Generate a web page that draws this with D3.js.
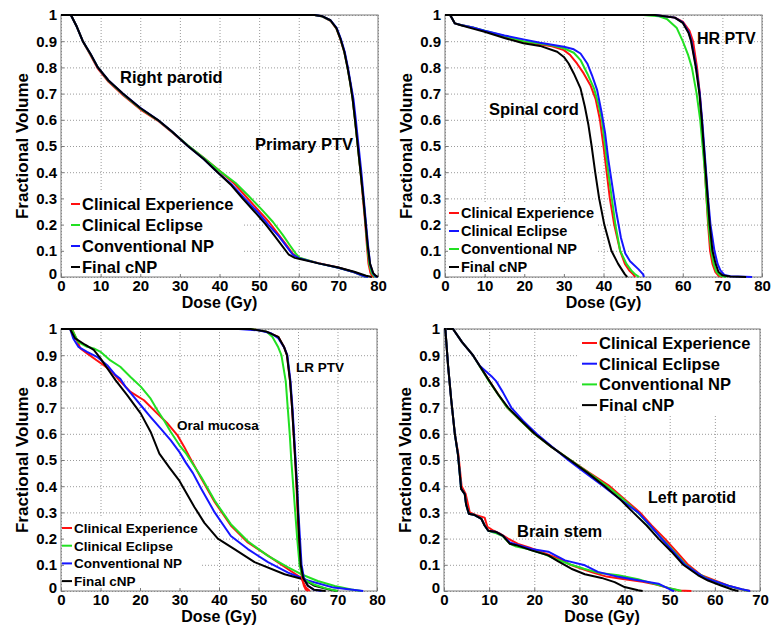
<!DOCTYPE html>
<html>
<head>
<meta charset="utf-8">
<script src="https://cdn.jsdelivr.net/npm/d3@7"></script>
<style>
  body { margin: 0; background: #fff; }
  svg { display: block; }
  text { font-family: "Liberation Sans", Arial, sans-serif; font-weight: bold; fill: #000; }
</style>
</head>
<body>
<svg id="fig" width="773" height="635"></svg>
<script>
// ---- data (dose in Gy, fractional volume) ----
var seriesNames = ["Clinical Experience", "Clinical Eclipse", "Conventional NP", "Final cNP"];
var yTicks = [0, 0.1, 0.2, 0.3, 0.4, 0.5, 0.6, 0.7, 0.8, 0.9, 1];
var xTicks80 = [0, 10, 20, 30, 40, 50, 60, 70, 80];
var xTicks70 = [0, 10, 20, 30, 40, 50, 60, 70];

// top-left: right parotid
var parA_exp = [[0,1],[2.5,1],[4,0.955],[5.5,0.9],[7.5,0.845],[9.3,0.795],[12,0.745],[15.6,0.695],[20,0.64],[24.4,0.597],[28,0.553],[32,0.502],[36,0.455],[40,0.405],[43.5,0.36],[46.5,0.31],[49.5,0.26],[52.5,0.21],[55,0.16],[57,0.12],[58.5,0.088],[60,0.073],[65,0.053],[70,0.036],[74,0.018],[76.5,0.004],[77.5,0]];
var parA_ecl = [[0,1],[2.5,1],[4,0.955],[5.5,0.9],[7.5,0.848],[9.3,0.8],[12,0.748],[15.6,0.698],[20,0.643],[24.4,0.599],[28,0.554],[32,0.503],[36,0.455],[40,0.405],[44,0.36],[47.3,0.31],[50.5,0.26],[53.5,0.21],[56,0.16],[57.8,0.12],[59.2,0.09],[60.2,0.074],[65,0.052],[70,0.035],[74,0.018],[76.5,0.003],[77.5,0]];
var parA_np  = [[0,1],[2.5,1],[4,0.955],[5.5,0.9],[7.5,0.85],[9.3,0.8],[12,0.75],[15.6,0.7],[20,0.646],[24.4,0.6],[28,0.555],[32,0.5],[36,0.45],[39.5,0.4],[43.3,0.35],[46.3,0.3],[49.5,0.25],[52.3,0.2],[55,0.155],[57,0.115],[58.5,0.085],[60,0.072],[65,0.052],[70,0.035],[74,0.018],[76.5,0.003],[77.5,0]];
var parA_cnp = [[0,1],[2.5,1],[4,0.955],[5.5,0.9],[7.5,0.85],[9.3,0.8],[12,0.75],[15.6,0.7],[20,0.645],[24.4,0.6],[28,0.555],[32,0.5],[36,0.45],[39.5,0.4],[43,0.35],[45.8,0.3],[48.8,0.25],[51.7,0.2],[54,0.155],[56,0.115],[57.5,0.085],[59,0.073],[60,0.07],[65,0.052],[70,0.036],[74,0.02],[77,0.005],[78.5,0]];
// top-left: primary PTV
var ptvA_exp = [[0,1],[64,1],[66,0.994],[68,0.978],[69.5,0.948],[70.5,0.908],[71.5,0.858],[72.3,0.8],[73,0.74],[73.6,0.68],[74.2,0.6],[74.9,0.5],[75.6,0.4],[76.2,0.3],[76.8,0.2],[77.2,0.12],[77.6,0.05],[78.1,0.015],[78.6,0.003],[79,0]];
var ptvA_ecl = [[0,1],[64,1],[66,0.994],[68,0.979],[69.5,0.95],[70.5,0.91],[71.5,0.86],[72.3,0.8],[73,0.74],[73.6,0.68],[74.2,0.6],[74.9,0.5],[75.6,0.4],[76.3,0.3],[76.9,0.2],[77.3,0.12],[77.8,0.05],[78.4,0.015],[79,0.003],[79.5,0]];
var ptvA_np  = [[0,1],[64,1],[66,0.995],[68,0.98],[69.6,0.95],[70.6,0.91],[71.6,0.86],[72.4,0.8],[73.1,0.74],[73.8,0.68],[74.4,0.6],[75.1,0.5],[75.8,0.4],[76.4,0.3],[77,0.2],[77.5,0.12],[78,0.05],[78.7,0.015],[79.3,0.003],[79.8,0]];
var ptvA_cnp = [[0,1],[64,1],[66,0.995],[68,0.98],[69.5,0.95],[70.5,0.91],[71.5,0.86],[72.3,0.8],[73,0.74],[73.6,0.68],[74.2,0.6],[74.9,0.5],[75.6,0.4],[76.3,0.3],[76.9,0.2],[77.4,0.12],[78,0.05],[78.8,0.015],[79.5,0.004],[80,0]];

// top-right: spinal cord
var cordB_exp = [[0,1],[1.3,1],[2.5,0.968],[4,0.962],[7,0.952],[10,0.938],[15,0.918],[19.8,0.898],[26.6,0.882],[30,0.866],[31.6,0.847],[33.3,0.815],[35,0.777],[36.7,0.732],[38,0.68],[39.1,0.6],[40,0.5],[40.8,0.4],[41.6,0.3],[42.7,0.2],[44.2,0.1],[45.4,0.05],[46.5,0.025],[47.5,0.01],[48,0]];
var cordB_ecl = [[0,1],[1.3,1],[2.5,0.968],[4,0.962],[7,0.952],[10,0.94],[15,0.922],[19.8,0.907],[24,0.894],[30,0.879],[32.5,0.869],[34.2,0.853],[35.9,0.815],[37.1,0.77],[38.4,0.713],[39.5,0.63],[40.4,0.55],[41.2,0.45],[42.2,0.35],[43.2,0.25],[44.4,0.15],[45.5,0.09],[46.7,0.06],[48.8,0.03],[50,0.01],[50.2,0]];
var cordB_np  = [[0,1],[1.3,1],[2.5,0.968],[4,0.962],[7,0.952],[10,0.94],[15,0.92],[19.8,0.9],[26.6,0.885],[30,0.873],[32.5,0.856],[34.2,0.828],[35.9,0.777],[37.6,0.72],[38.7,0.66],[39.6,0.6],[40.4,0.5],[41.2,0.4],[42.1,0.3],[43,0.2],[44.2,0.1],[45.8,0.05],[47,0.025],[48,0.01],[49,0]];
var cordB_cnp = [[0,1],[1.3,1],[2.5,0.968],[3.8,0.962],[7,0.948],[10,0.936],[15,0.912],[19.8,0.892],[24,0.882],[28.3,0.86],[30,0.84],[31.2,0.815],[32.5,0.777],[34.2,0.72],[35.3,0.65],[36.2,0.58],[37,0.5],[37.9,0.4],[38.9,0.3],[40.2,0.2],[42,0.1],[43.7,0.05],[45.4,0.01],[46,0]];
// top-right: HR PTV
var ptvB_exp = [[0,1],[53,1],[58,0.99],[60,0.975],[61.7,0.94],[62.6,0.9],[63.6,0.8],[64.3,0.7],[64.8,0.6],[65.2,0.5],[65.6,0.4],[66,0.3],[66.4,0.2],[66.9,0.1],[67.5,0.05],[68.2,0.02],[69,0.005],[70,0]];
var ptvB_ecl = [[0,1],[53,1],[58,0.99],[60,0.972],[61.5,0.935],[62.2,0.9],[63.4,0.8],[64.3,0.7],[64.9,0.6],[65.4,0.5],[65.9,0.4],[66.4,0.3],[67,0.2],[68,0.1],[68.8,0.05],[69.5,0.025],[70.5,0.008],[72,0.003],[77.5,0]];
var ptvB_np  = [[0,1],[50,1],[54,0.995],[56,0.985],[58.5,0.95],[60,0.9],[61.3,0.85],[62.3,0.8],[63.5,0.7],[64.4,0.6],[65,0.5],[65.6,0.4],[66,0.3],[66.5,0.2],[67.2,0.1],[67.8,0.05],[68.5,0.02],[69.5,0.005],[71,0]];
var ptvB_cnp = [[0,1],[53,1],[58,0.99],[60,0.97],[61.5,0.93],[62.1,0.9],[63.3,0.8],[64.2,0.7],[64.8,0.6],[65.3,0.5],[65.8,0.4],[66.3,0.3],[66.8,0.2],[67.5,0.1],[68.3,0.05],[69,0.02],[70,0.007],[72,0.002],[76,0]];

// bottom-left: oral mucosa
var oralC_exp = [[0,1],[2.8,1],[4.9,0.926],[6.6,0.907],[9.1,0.88],[10.8,0.862],[12.5,0.843],[15,0.8],[17.6,0.76],[21,0.728],[24.4,0.677],[27,0.639],[29.5,0.594],[31.2,0.55],[32.6,0.51],[35.5,0.43],[38.9,0.34],[43,0.25],[47.3,0.185],[52.4,0.135],[57.5,0.083],[60.8,0.05],[62,0.013],[63,0]];
var oralC_ecl = [[0,1],[2.7,1],[4.4,0.95],[6.6,0.932],[8.3,0.926],[10,0.913],[12.5,0.88],[15,0.856],[17.6,0.817],[20.2,0.78],[22.7,0.734],[24.4,0.69],[26.1,0.651],[27.8,0.607],[30,0.556],[31.7,0.524],[35.5,0.435],[38.9,0.345],[43,0.255],[47.3,0.19],[52.4,0.134],[57.5,0.09],[60.8,0.064],[65,0.038],[69.3,0.019],[73.5,0.006],[76,0]];
var oralC_np  = [[0,1],[2.3,1],[3.1,0.964],[4.4,0.932],[6.6,0.913],[9.1,0.894],[11.7,0.862],[13.8,0.824],[15,0.81],[16.3,0.78],[18.5,0.74],[20.2,0.709],[22.7,0.664],[25.3,0.619],[27.8,0.575],[30,0.53],[31.6,0.49],[33.4,0.45],[35.5,0.39],[38.9,0.3],[43,0.21],[47.3,0.16],[52.4,0.11],[57.5,0.07],[62.5,0.04],[69,0.013],[76.5,0]];
var oralC_cnp = [[0,1],[2.3,1],[3.6,0.964],[6.1,0.94],[8.3,0.92],[10,0.888],[11.7,0.85],[13.8,0.805],[16.8,0.747],[20.2,0.677],[22.7,0.607],[24.9,0.524],[27.5,0.47],[30,0.42],[33.8,0.32],[36.3,0.26],[39.7,0.2],[43.9,0.16],[49,0.11],[56.6,0.064],[61.3,0.045],[64.2,0.02],[68.4,0.004],[70,0]];
// bottom-left: LR PTV
var ptvC_exp = [[0,1],[48,1],[52,0.99],[55,0.97],[56.5,0.93],[57.2,0.9],[58,0.8],[58.5,0.7],[58.9,0.6],[59.3,0.5],[59.6,0.4],[59.9,0.3],[60.2,0.2],[60.6,0.1],[61,0.05],[61.5,0.02],[62,0.005],[62.5,0]];
var ptvC_ecl = [[0,1],[48,1],[52,0.99],[53.5,0.97],[55,0.93],[55.8,0.9],[56.9,0.8],[57.4,0.7],[57.9,0.6],[58.3,0.5],[58.8,0.4],[59.3,0.3],[59.8,0.2],[60.4,0.1],[61,0.06],[62,0.04],[64,0.025],[67,0.01],[70,0]];
var ptvC_np  = [[0,1],[45,1],[50,0.995],[53,0.985],[55,0.965],[56.5,0.93],[57.3,0.9],[58.1,0.8],[58.6,0.7],[59,0.6],[59.4,0.5],[59.8,0.4],[60.1,0.3],[60.5,0.2],[60.9,0.1],[61.5,0.05],[62.5,0.02],[64,0.005],[66,0]];
var ptvC_cnp = [[0,1],[48,1],[52,0.99],[55,0.97],[56.5,0.93],[57.2,0.9],[58,0.8],[58.5,0.7],[58.9,0.6],[59.3,0.5],[59.7,0.4],[60,0.3],[60.3,0.2],[60.7,0.1],[61.3,0.05],[62.5,0.02],[64,0.005],[67,0]];

// bottom-right: left parotid
var parD_exp = [[0,1],[2,1],[4,0.95],[6.4,0.9],[10.1,0.8],[14,0.7],[17,0.65],[20,0.6],[23.8,0.55],[28,0.5],[32.3,0.45],[36.7,0.4],[40,0.35],[43.4,0.3],[46,0.25],[48.9,0.2],[51.5,0.15],[54.1,0.1],[57,0.06],[60,0.04],[63,0.02],[66,0.006],[67.8,0]];
var parD_ecl = [[0,1],[2,1],[4,0.95],[6.4,0.9],[7.9,0.86],[10.5,0.82],[11.6,0.8],[13,0.76],[14.9,0.7],[17.5,0.65],[20.5,0.6],[24,0.55],[27.5,0.5],[31.4,0.45],[35.3,0.4],[39,0.35],[43,0.3],[45.7,0.25],[48.2,0.2],[50.8,0.15],[53.4,0.1],[57.8,0.05],[63,0.02],[66,0.007],[67.8,0]];
var parD_np  = [[0,1],[2,1],[4,0.95],[6.4,0.9],[10,0.8],[14,0.7],[17,0.65],[20,0.6],[23.8,0.55],[28,0.5],[32.1,0.45],[36.2,0.4],[39.7,0.35],[42.9,0.3],[45.6,0.25],[48.3,0.2],[51,0.15],[53.6,0.1],[56,0.07],[58,0.05],[62,0.025],[65,0.01],[67.5,0]];
var parD_cnp = [[0,1],[2,1],[4,0.95],[6.4,0.9],[10.1,0.8],[12,0.75],[14.2,0.7],[17.1,0.65],[20.1,0.6],[23.8,0.55],[27.9,0.5],[31.9,0.45],[35.6,0.4],[39,0.35],[41.9,0.3],[44.9,0.25],[47.5,0.2],[50.4,0.15],[53,0.1],[56.3,0.06],[58.5,0.04],[61.5,0.02],[64,0.005],[65.2,0]];
// bottom-right: brain stem
var stemD_exp = [[0,1],[0.3,1],[0.9,0.86],[1.6,0.73],[2.4,0.6],[3.2,0.52],[3.9,0.4],[4.8,0.37],[5.2,0.34],[5.7,0.3],[7,0.29],[9,0.28],[9.6,0.245],[11,0.23],[12.3,0.22],[14.2,0.2],[16.4,0.18],[19,0.165],[23,0.14],[26,0.12],[28,0.1],[30.5,0.085],[33,0.07],[36,0.055],[40,0.045],[44,0.035],[47,0.025],[50,0.01],[52,0.002],[54.8,0]];
var stemD_ecl = [[0,1],[0.3,1],[0.9,0.86],[1.6,0.73],[2.4,0.6],[3.1,0.52],[3.8,0.39],[4.6,0.37],[4.9,0.33],[5.5,0.295],[6.8,0.29],[8.3,0.275],[9,0.25],[9.8,0.23],[11.6,0.225],[13.1,0.21],[14.6,0.185],[16,0.178],[19.4,0.16],[23.1,0.15],[26.8,0.117],[31.2,0.098],[34.1,0.073],[38.6,0.054],[43,0.041],[47.5,0.028],[50.4,0.003],[51,0]];
var stemD_np  = [[0,1],[0.3,1],[0.9,0.86],[1.6,0.73],[2.4,0.6],[3.1,0.52],[3.8,0.39],[4.6,0.37],[4.9,0.33],[5.5,0.295],[6.8,0.29],[8.3,0.275],[9,0.25],[9.8,0.23],[11.6,0.22],[13,0.21],[14.6,0.18],[16,0.17],[18.6,0.16],[22.3,0.14],[25,0.12],[28.2,0.1],[31,0.085],[34.1,0.07],[38.6,0.06],[43,0.045],[46,0.03],[49.7,0.012],[52,0.003],[52.6,0]];
var stemD_cnp = [[0,1],[0.3,1],[0.9,0.86],[1.6,0.73],[2.4,0.6],[3.1,0.52],[3.8,0.39],[4.6,0.37],[4.9,0.33],[5.5,0.295],[6.8,0.29],[8.3,0.275],[9,0.25],[9.8,0.23],[11.6,0.225],[13.1,0.21],[14.6,0.18],[16,0.175],[19.4,0.155],[23.1,0.136],[25.3,0.113],[28.2,0.085],[31.2,0.064],[34.9,0.05],[37.8,0.034],[40,0.015],[43,0.003],[44,0]];

// ---- styling ----
var RED = "#ff1010", GREEN = "#22e022", BLUE = "#1515ff", BLACK = "#000000";

var panels = [
  {
    left: 61, top: 15, width: 317, height: 262, xMax: 80, xTicks: xTicks80,
    curves: [[parA_exp, RED], [parA_ecl, GREEN], [parA_np, BLUE], [parA_cnp, BLACK],
             [ptvA_exp, RED], [ptvA_ecl, GREEN], [ptvA_np, BLUE], [ptvA_cnp, BLACK]],
    legend: { x: 71, y: 204, step: 21, len: 9, gap: 2, size: 16.5, colors: [RED, GREEN, BLUE, BLACK], box: [62, 192, 180, 84] },
    labels: [["Right parotid", 120, 83, 16.5], ["Primary PTV", 255, 150, 16.5]]
  },
  {
    left: 445, top: 15, width: 317, height: 262, xMax: 80, xTicks: xTicks80,
    curves: [[cordB_exp, RED], [cordB_np, GREEN], [cordB_ecl, BLUE], [cordB_cnp, BLACK],
             [ptvB_exp, RED], [ptvB_np, GREEN], [ptvB_ecl, BLUE], [ptvB_cnp, BLACK]],
    legend: { x: 449, y: 213, step: 18, len: 10, gap: 2, size: 14.5, colors: [RED, BLUE, GREEN, BLACK], box: [446, 203, 152, 73] },
    labels: [["Spinal cord", 489, 115, 16.5], ["HR PTV", 697, 44, 16]]
  },
  {
    left: 61, top: 329, width: 316, height: 262, xMax: 80, xTicks: xTicks80,
    curves: [[oralC_exp, RED], [oralC_ecl, GREEN], [oralC_np, BLUE], [oralC_cnp, BLACK],
             [ptvC_exp, RED], [ptvC_ecl, GREEN], [ptvC_np, BLUE], [ptvC_cnp, BLACK]],
    legend: { x: 62, y: 528, step: 17.7, len: 10, gap: 2, size: 13.5, colors: [RED, GREEN, BLUE, BLACK], box: [62, 518, 138, 72] },
    labels: [["Oral mucosa", 177, 430, 13.5], ["LR PTV", 296, 372, 13.5]]
  },
  {
    left: 444, top: 329, width: 316, height: 262, xMax: 70, xTicks: xTicks70,
    curves: [[parD_exp, RED], [parD_np, GREEN], [parD_ecl, BLUE], [parD_cnp, BLACK],
             [stemD_exp, RED], [stemD_np, GREEN], [stemD_ecl, BLUE], [stemD_cnp, BLACK]],
    legend: { x: 582, y: 343, step: 20.7, len: 15, gap: 2, size: 16.5, colors: [RED, BLUE, GREEN, BLACK], box: [579, 330, 180, 85] },
    labels: [["Left parotid", 648, 503, 16], ["Brain stem", 517, 537, 16.5]]
  }
];

var svg = d3.select("#fig");
var fmt = function (d) { return String(+d.toFixed(1)); };

panels.forEach(function (p) {
  var x = d3.scaleLinear().domain([0, p.xMax]).range([p.left, p.left + p.width]);
  var y = d3.scaleLinear().domain([0, 1]).range([p.top + p.height, p.top]);
  var g = svg.append("g");

  // dotted grid
  g.append("g")
    .attr("transform", "translate(0," + (p.top + p.height) + ")")
    .call(d3.axisBottom(x).tickValues(p.xTicks).tickSize(-p.height).tickFormat(""))
    .call(function (s) {
      s.select(".domain").remove();
      s.selectAll("line").attr("stroke", "#9a9a9a").attr("stroke-dasharray", "1,2");
    });
  g.append("g")
    .attr("transform", "translate(" + p.left + ",0)")
    .call(d3.axisLeft(y).tickValues(yTicks).tickSize(-p.width).tickFormat(""))
    .call(function (s) {
      s.select(".domain").remove();
      s.selectAll("line").attr("stroke", "#9a9a9a").attr("stroke-dasharray", "1,2");
    });

  // legend background hides the grid, like the original
  g.append("rect")
    .attr("x", p.legend.box[0]).attr("y", p.legend.box[1])
    .attr("width", p.legend.box[2]).attr("height", p.legend.box[3])
    .attr("fill", "#fff");

  // frame
  g.append("rect")
    .attr("x", p.left).attr("y", p.top)
    .attr("width", p.width).attr("height", p.height)
    .attr("fill", "none").attr("stroke", "#7a7a7a").attr("stroke-width", 1);

  // tick labels with short inward ticks
  var xa = g.append("g")
    .attr("transform", "translate(0," + (p.top + p.height) + ")")
    .call(d3.axisBottom(x).tickValues(p.xTicks).tickSize(-3).tickPadding(3).tickFormat(d3.format("d")));
  var ya = g.append("g")
    .attr("transform", "translate(" + p.left + ",0)")
    .call(d3.axisLeft(y).tickValues(yTicks).tickSize(-3).tickPadding(4).tickFormat(fmt));
  [xa, ya].forEach(function (a) {
    a.select(".domain").remove();
    a.selectAll("line").attr("stroke", "#7a7a7a");
    a.selectAll("text").attr("font-size", 15).attr("font-family", null).attr("fill", "#000");
  });
  ya.selectAll(".tick").filter(function (d) { return d === 0; }).select("text").attr("dy", "0.1em");

  // curves
  var line = d3.line().x(function (d) { return x(d[0]); }).y(function (d) { return y(d[1]); });
  p.curves.forEach(function (c) {
    g.append("path")
      .datum(c[0])
      .attr("d", line)
      .attr("fill", "none")
      .attr("stroke", c[1])
      .attr("stroke-width", 2)
      .attr("stroke-linejoin", "round");
  });

  // legend
  seriesNames.forEach(function (name, i) {
    var ly = p.legend.y + i * p.legend.step;
    g.append("line")
      .attr("x1", p.legend.x).attr("x2", p.legend.x + p.legend.len)
      .attr("y1", ly).attr("y2", ly)
      .attr("stroke", p.legend.colors[i]).attr("stroke-width", 2);
    g.append("text")
      .attr("x", p.legend.x + p.legend.len + p.legend.gap)
      .attr("y", ly)
      .attr("dy", "0.36em")
      .attr("font-size", p.legend.size)
      .text(name);
  });

  // structure labels
  p.labels.forEach(function (l) {
    g.append("text").attr("x", l[1]).attr("y", l[2]).attr("font-size", l[3]).text(l[0]);
  });

  // axis titles
  g.append("text")
    .attr("x", p.left + p.width / 2).attr("y", p.top + p.height + 31)
    .attr("text-anchor", "middle").attr("font-size", 16)
    .text("Dose (Gy)");
  g.append("text")
    .attr("transform", "translate(" + (p.left - 33) + "," + (p.top + p.height / 2) + ") rotate(-90)")
    .attr("text-anchor", "middle").attr("font-size", 17)
    .text("Fractional Volume");
});
</script>
</body>
</html>
